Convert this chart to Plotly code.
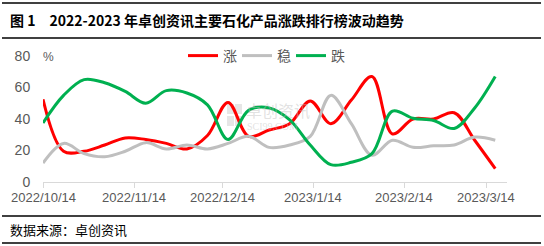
import plotly.graph_objects as go

dates = ["2022-10-14", "2022-10-21", "2022-10-28", "2022-11-04", "2022-11-11", "2022-11-18",
         "2022-11-25", "2022-12-02", "2022-12-09", "2022-12-16", "2022-12-23", "2022-12-30",
         "2023-01-06", "2023-01-13", "2023-01-20", "2023-01-27", "2023-02-03", "2023-02-10",
         "2023-02-17", "2023-02-24", "2023-03-03", "2023-03-10", "2023-03-17"]
rise = [52.5, 19.5, 19.5, 23.5, 28, 27, 24.5, 21, 29.5, 50.5, 29, 33, 37, 51.5, 37, 52, 67, 30.5, 40, 40, 44, 26.5, 8.5]
flat = [12, 24.5, 18, 16, 19.5, 25, 21, 23.5, 21, 24.5, 29, 22, 23.5, 29, 55, 37, 17, 26.5, 22, 23, 23.5, 28.5, 26.5]
fall = [37.5, 55, 65, 63, 57.5, 50, 58, 56.5, 49, 27, 45.5, 47, 39.5, 23.5, 11, 12.5, 18, 45, 40.5, 39, 34, 47, 67]
names = ["涨", "稳", "跌"]
colors = ["#FF0000", "#BFBFBF", "#00B050"]

tick_dates = ["2022-10-14", "2022-11-14", "2022-12-14", "2023-01-14", "2023-02-14", "2023-03-14"]
tick_text = ["2022/10/14", "2022/11/14", "2022/12/14", "2023/1/14", "2023/2/14", "2023/3/14"]

W, H = 544, 246
L, R, T, B = 43, 37, 56, 64
pw, ph = W - L - R, H - T - B

def px(x):
    return (x - L) / pw

def py(y):
    return (H - B - y) / ph

fig = go.Figure()
for n, vals, c in zip(names, [rise, flat, fall], colors):
    fig.add_trace(go.Scatter(x=dates, y=vals, name=n, mode="lines",
                             line=dict(color=c, width=3, shape="spline", smoothing=1.0)))

cjk = "Noto Sans CJK SC"
fig.update_layout(
    width=W, height=H,
    margin=dict(l=L, r=R, t=T, b=B),
    paper_bgcolor="white", plot_bgcolor="white",
    font=dict(family="Liberation Sans, Arial", size=13, color="#595959"),
    showlegend=True,
    legend=dict(orientation="h", x=px(183), y=1.0, xanchor="left", yanchor="middle",
                font=dict(family=cjk, size=14, color="#595959"),
                bgcolor="rgba(0,0,0,0)", itemwidth=30,
                entrywidth=9, entrywidthmode="pixels", tracegroupgap=0),
    xaxis=dict(type="date", range=["2022-10-14", "2023-03-21"],
               tickvals=tick_dates, ticktext=tick_text, showticklabels=False,
               showgrid=False, zeroline=False,
               showline=True, linecolor="#D9D9D9", linewidth=1,
               ticks="outside", ticklen=5, tickcolor="#D9D9D9"),
    yaxis=dict(range=[0, 80], tickvals=[0, 20, 40, 60, 80],
               showgrid=False, zeroline=False, showline=False,
               ticks="outside", ticklen=9, tickcolor="rgba(0,0,0,0)",
               tickfont=dict(size=14, color="#595959")),
)

shapes = []
for yl in [3, 38, 216, 243]:
    shapes.append(dict(type="line", xref="paper", yref="paper",
                       x0=px(2), x1=px(541), y0=py(yl), y1=py(yl),
                       line=dict(color="black", width=1.5)))
# faint watermark logo squares
for (sx, sy) in [(227, 104), (235, 104), (227, 116), (235, 116)]:
    shapes.append(dict(type="rect", xref="paper", yref="paper", layer="below",
                       x0=px(sx), x1=px(sx + 7), y0=py(sy), y1=py(sy + 10),
                       line=dict(width=0), fillcolor="rgba(200,200,200,0.45)"))
fig.update_layout(shapes=shapes)

ann = [
    dict(text="<b>图 1　2022-2023 年卓创资讯主要石化产品涨跌排行榜波动趋势</b>",
         x=px(8), y=py(20), xanchor="left", yanchor="middle",
         font=dict(family=cjk, size=14, color="black")),
    dict(text="数据来源：卓创资讯", x=px(8), y=py(229), xanchor="left", yanchor="middle",
         font=dict(family=cjk, size=13, color="black")),
    dict(text="%", x=px(48), y=py(57), xanchor="center", yanchor="middle",
         font=dict(family="Liberation Sans", size=12, color="#595959")),
    dict(text="卓创资讯", x=px(244), y=py(110), xanchor="left", yanchor="middle",
         font=dict(family=cjk, size=16, color="rgba(190,190,190,0.45)")),
    dict(text="SCI99.COM", x=px(245), y=py(126), xanchor="left", yanchor="middle",
         font=dict(family="Liberation Serif", size=10, color="rgba(190,190,190,0.45)")),
]
for a in ann:
    a.update(xref="paper", yref="paper", showarrow=False)
# x tick labels placed through the date axis scale
for d, t in zip(tick_dates, tick_text):
    ann.append(dict(text=t, x=d, xref="x", y=py(197), yref="paper",
                    xanchor="center", yanchor="middle", showarrow=False,
                    font=dict(family="Liberation Sans", size=13, color="#595959")))
fig.update_layout(annotations=ann)

fig.write_html("out.html")
